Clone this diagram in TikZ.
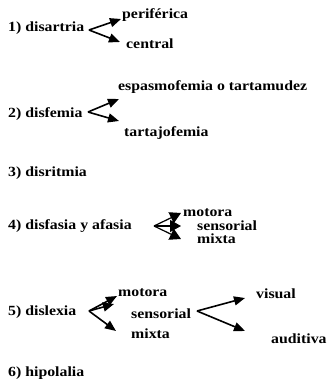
\documentclass[tikz,border=0pt]{standalone}
\usepackage{fontspec}
\setmainfont{Liberation Serif}[FakeStretch=1.13]
\usetikzlibrary{arrows.meta}
\tikzset{
  lbl/.style={anchor=west,inner sep=0pt,font=\fontsize{14}{15}\selectfont\bfseries},
  arr/.style={line width=1.6pt,-{Triangle[length=11pt,width=9pt]}},
  arrs/.style={line width=1.2pt,-{Triangle[length=11pt,width=12pt]}}
}
\begin{document}
\begin{tikzpicture}[x=1pt,y=-1pt]
\useasboundingbox (0,0) rectangle (327,385);
% 1
\node[lbl] (d1) at (8,28) {1) disartria};
\node[lbl] (per) at (122,15) {periférica};
\node[lbl] (cen) at (126,44) {central};
\coordinate (o1) at (89,30);
\coordinate (t1a) at (121,19);
\coordinate (t1b) at (120,42);
\draw[arr] (o1) -- (t1a);
\draw[arr] (o1) -- (t1b);
% 2
\node[lbl] (esp) at (118,87) {espasmofemia o tartamudez};
\node[lbl] (d2) at (8,114) {2) disfemia};
\node[lbl] (tar) at (124,133) {tartajofemia};
\coordinate (o2) at (88,112);
\coordinate (t2a) at (119,99);
\coordinate (t2b) at (119,121);
\draw[arr] (o2) -- (t2a);
\draw[arr] (o2) -- (t2b);
% 3
\node[lbl] (d3) at (8,173) {3) disritmia};
% 4
\node[lbl] (d4) at (8,226) {4) disfasia y afasia};
\node[lbl] (mo4) at (183,213) {motora};
\node[lbl] (se4) at (197,226) {sensorial};
\node[lbl] (mi4) at (197,239) {mixta};
\coordinate (o4) at (154,226);
\coordinate (t4a) at (181,213);
\coordinate (t4b) at (181,226);
\coordinate (t4c) at (181,239);
\draw[arrs] (o4) -- (t4a);
\draw[arrs] (o4) -- (t4b);
\draw[arrs] (o4) -- (t4c);
% 5
\node[lbl] (d5) at (8,312) {5) dislexia};
\node[lbl] (mo5) at (118,293) {motora};
\node[lbl] (se5) at (131,314) {sensorial};
\node[lbl] (mi5) at (131,334) {mixta};
\coordinate (o5) at (89,311);
\coordinate (t5a) at (117,296);
\coordinate (t5b) at (114,304);
\coordinate (t5c) at (116,331);
\draw[arr] (o5) -- (t5a);
\draw[arr] (o5) -- (t5b);
\draw[arr] (o5) -- (t5c);
\node[lbl] (vis) at (256,294) {visual};
\node[lbl] (aud) at (271,339) {auditiva};
\coordinate (o6) at (197,311);
\coordinate (t6a) at (245,298);
\coordinate (t6b) at (245,331);
\draw[arr] (o6) -- (t6a);
\draw[arr] (o6) -- (t6b);
% 6
\node[lbl] (d6) at (8,373) {6) hipolalia};
\end{tikzpicture}
\end{document}
